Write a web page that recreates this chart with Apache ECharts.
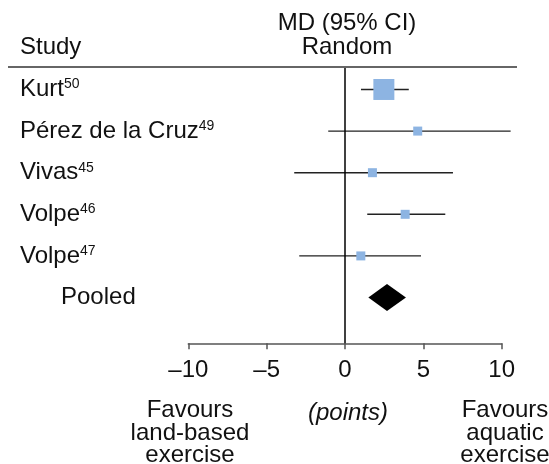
<!DOCTYPE html>
<html><head><meta charset="utf-8">
<script src="https://cdn.jsdelivr.net/npm/echarts@6/dist/echarts.min.js"></script>
<style>html,body{margin:0;padding:0;background:#fff}#c{width:549px;height:464px}</style>
</head><body><div id="c"></div>
<script>
// ---- data ----
const studies = ['Kurt', 'Pérez de la Cruz', 'Vivas', 'Volpe', 'Volpe', 'Pooled'];
const refs = ['50', '49', '45', '46', '47', ''];
const md = [2.48, 4.64, 1.75, 3.84, 1.01, 2.68];
const lower = [1.02, -1.07, -3.24, 1.42, -2.92, 1.49];
const upper = [4.07, 10.57, 6.89, 6.40, 4.85, 3.89];
const xTicks = [-10, -5, 0, 5, 10];

// ---- styles ----
const FONT = 'Liberation Sans';
const FS = 24;
const squareSize = [21, 9, 9, 9, 9];
const diamondHalfH = 13.5;
const rows = studies.map((s, i) => [i, md[i], lower[i], upper[i]]);

const chart = echarts.init(document.getElementById('c'), null, {renderer: 'canvas'});
chart.setOption({
  animation: false,
  backgroundColor: '#fff',
  textStyle: {fontFamily: FONT},
  grid: {left: 188.3, right: 47.3, top: 67, bottom: 120.7},
  xAxis: {
    type: 'value', min: -10, max: 10, interval: 5,
    splitLine: {show: false},
    axisLine: {onZero: false, lineStyle: {color: '#555', width: 1.5}},
    axisTick: {length: 6, lineStyle: {color: '#555', width: 1.5}},
    axisLabel: {
      customValues: xTicks,
      fontSize: FS, color: '#111', fontFamily: FONT, margin: 15,
      formatter: v => (v < 0 ? '\u2013' + Math.abs(v) : String(v))
    }
  },
  yAxis: {
    type: 'value', inverse: true, min: -0.54, max: 6.1,
    splitLine: {show: false}, axisLine: {show: false}, axisTick: {show: false},
    axisLabel: {
      customValues: studies.map((s, i) => i),
      align: 'left', margin: 168.3,
      formatter: v => {
        const i = Math.round(v);
        if (i === studies.length - 1) return '{p|' + studies[i] + '}';
        return '{n|' + studies[i] + '}{s|' + refs[i] + '}';
      },
      rich: {
        n: {fontSize: FS, color: '#111', fontFamily: FONT, lineHeight: 24},
        s: {fontSize: 14, color: '#111', fontFamily: FONT, lineHeight: 14, verticalAlign: 'top'},
        p: {fontSize: FS, color: '#111', fontFamily: FONT, lineHeight: 24, padding: [0, 0, 0, 41]}
      }
    }
  },
  series: [{
    type: 'custom',
    encode: {x: [1, 2, 3], y: 0},
    data: rows,
    renderItem: (params, api) => {
      const i = api.value(0);
      const m = api.value(1), lo = api.value(2), hi = api.value(3);
      const pm = api.coord([m, i]);
      const pl = api.coord([lo, i]);
      const ph = api.coord([hi, i]);
      if (i === studies.length - 1) {
        return {
          type: 'polygon',
          shape: {points: [[pl[0], pl[1]], [pm[0], pm[1] - diamondHalfH], [ph[0], ph[1]], [pm[0], pm[1] + diamondHalfH]]},
          style: {fill: '#000'}
        };
      }
      const sz = squareSize[i];
      return {
        type: 'group',
        children: [
          {type: 'line', shape: {x1: pl[0], y1: pl[1], x2: ph[0], y2: ph[1]}, style: {stroke: '#222', lineWidth: 1.4}},
          {type: 'rect', shape: {x: pm[0] - sz / 2, y: pm[1] - sz / 2, width: sz, height: sz}, style: {fill: '#8DB4E2'}}
        ]
      };
    },
    markLine: {
      silent: true, symbol: 'none', label: {show: false},
      lineStyle: {color: '#000', width: 1.5, type: 'solid'},
      data: [{xAxis: 0}]
    },
    z: 3
  }],
  graphic: [
    {type: 'line', shape: {x1: 8, y1: 67, x2: 517, y2: 67}, style: {stroke: '#666', lineWidth: 2}, z: 10},
    {type: 'text', x: 20, y: 47, style: {text: 'Study', fontSize: FS, fontFamily: FONT, fill: '#111', align: 'left', verticalAlign: 'middle'}},
    {type: 'text', x: 347, y: 23.5, style: {text: 'MD (95% CI)', fontSize: FS, fontFamily: FONT, fill: '#111', align: 'center', verticalAlign: 'middle'}},
    {type: 'text', x: 347, y: 47, style: {text: 'Random', fontSize: FS, fontFamily: FONT, fill: '#111', align: 'center', verticalAlign: 'middle'}},
    {type: 'text', x: 190, y: 399.5, style: {text: 'Favours\nland-based\nexercise', fontSize: FS, lineHeight: 22.5, fontFamily: FONT, fill: '#111', align: 'center', verticalAlign: 'top'}},
    {type: 'text', x: 348, y: 413, style: {text: '(points)', fontSize: FS, fontStyle: 'italic', fontFamily: FONT, fill: '#111', align: 'center', verticalAlign: 'middle'}},
    {type: 'text', x: 505, y: 399.5, style: {text: 'Favours\naquatic\nexercise', fontSize: FS, lineHeight: 22.5, fontFamily: FONT, fill: '#111', align: 'center', verticalAlign: 'top'}}
  ]
});
</script></body></html>
